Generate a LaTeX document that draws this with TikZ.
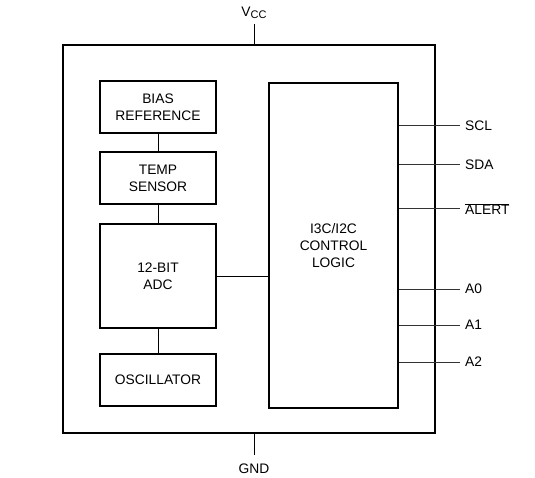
\documentclass[tikz,border=0pt]{standalone}
\usepackage{fontspec}
\setmainfont{Liberation Sans}
\begin{document}
\begin{tikzpicture}[x=1pt,y=-1pt,
  blk/.style={draw,line width=1.6pt,inner sep=0pt},
  conn/.style={line width=0.9pt},
  pinline/.style={line width=1pt,draw=black!80},
  lbl/.style={font=\fontsize{13.8}{16.7}\selectfont,align=center},
  pinlbl/.style={font=\fontsize{13.8}{16.7}\selectfont,anchor=west,inner sep=0pt}]
\useasboundingbox (0,0) rectangle (535,478);
\draw[blk] (63,45) rectangle (435,433);
\node[blk,minimum width=116pt,minimum height=52pt] (bias) at (158,107) {};
\node[lbl] at (bias.center) {BIAS\\REFERENCE};
\node[blk,minimum width=116pt,minimum height=52pt] (temp) at (158,178) {};
\node[lbl] at (temp.center) {TEMP\\SENSOR};
\node[blk,minimum width=116pt,minimum height=104pt] (adc) at (158,276) {};
\node[lbl] at (adc.center) {12-BIT\\ADC};
\node[blk,minimum width=116pt,minimum height=52pt] (osc) at (158,380) {};
\node[lbl] at (osc.center) {OSCILLATOR};
\node[blk,minimum width=129pt,minimum height=325pt] (logic) at (333.5,245.5) {};
\node[lbl] at (logic.center) {I3C/I2C\\CONTROL\\LOGIC};
\draw[conn] (bias.south) -- (temp.north);
\draw[conn] (temp.south) -- (adc.north);
\draw[conn] (adc.south) -- (osc.north);
\draw[conn] (adc.east) -- (logic.west |- adc.east);
% pins
\foreach \n/\y/\t in {scl/126/SCL,sda/165/SDA,alert/209/{$\overline{\hbox{ALERT}}$},a0/289/A0,a1/325/A1,a2/362/A2}{
  \coordinate (\n e) at (460,\y);
  \draw[pinline] (logic.east |- \n e) -- (\n e);
  \node[pinlbl] (\n) at (465,\y) {\t};
}
\coordinate (vcctop) at (254,24);
\coordinate (vccbot) at (254,45);
\draw[conn] (vcctop) -- (vccbot);
\node[font=\fontsize{13.8}{16.7}\selectfont,anchor=base] (vcc) at (254,17) {V\raisebox{-1.5pt}{\fontsize{11}{11}\selectfont CC}};
\coordinate (gndtop) at (254,433);
\coordinate (gndbot) at (254,455);
\draw[conn] (gndtop) -- (gndbot);
\node[font=\fontsize{13.8}{16.7}\selectfont,anchor=base] (gnd) at (254,473) {GND};
\end{tikzpicture}
\end{document}
